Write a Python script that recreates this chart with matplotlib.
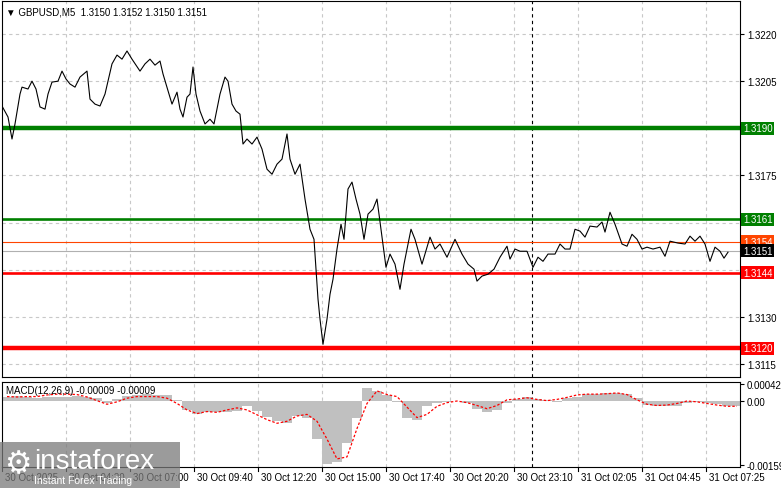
import numpy as np
import matplotlib
matplotlib.use('Agg')
import matplotlib.pyplot as plt
from matplotlib.patches import Rectangle

plt.rcParams['font.family'] = ['Liberation Sans', 'DejaVu Sans']

# price trace, x positions in bars (5 min each)
price_bars = (np.array([
    2, 8, 12, 15, 20, 22, 28, 32, 36, 40, 45, 48, 52, 58, 62, 66, 70, 75, 80, 87,
    90, 95, 100, 105, 112, 117, 122, 127, 132, 140, 145, 150, 155, 160, 163, 168, 172, 177, 180, 183,
    187, 190, 193, 196, 200, 205, 210, 214, 220, 225, 228, 232, 236, 240, 243, 247, 252, 257, 262, 267,
    272, 277, 282, 287, 290, 295, 300, 305, 310, 314, 316, 318, 320, 323, 327, 330, 333, 337, 341, 344,
    348, 352, 356, 360, 364, 368, 373, 377, 381, 386, 390, 395,
    400, 404, 411, 415, 422, 430, 435, 440, 447, 455, 462, 468, 474, 477, 482, 488, 494, 500, 507, 510,
    515, 520, 527, 533, 538, 543, 548, 555, 560, 565, 570, 575, 580, 585, 590, 597, 602, 605, 610, 615,
    622, 627, 632, 637, 642, 647, 653, 660, 665, 670, 678, 685, 690, 695, 700, 705, 710, 715, 720, 724,
    728]) - 2) / 2
price_close = [
    1.31971, 1.31936, 1.31866, 1.31914, 1.32009, 1.32031, 1.32025, 1.32050, 1.32025, 1.31968,
    1.31961, 1.32009, 1.32047, 1.32050, 1.32082, 1.32057, 1.32041, 1.32031, 1.32063, 1.32082,
    1.31993, 1.31977, 1.31971, 1.32009, 1.32105, 1.32133, 1.32120, 1.32146, 1.32120, 1.32082,
    1.32105, 1.32120, 1.32101, 1.32114, 1.32073, 1.32019, 1.31977, 1.32015, 1.31961, 1.31936,
    1.31999, 1.32009, 1.32095, 1.32009, 1.31955, 1.31914, 1.31929, 1.31914, 1.32009, 1.32063,
    1.32050, 1.31977, 1.31955, 1.31945, 1.31850, 1.31866, 1.31850, 1.31872, 1.31834, 1.31770,
    1.31754, 1.31786, 1.31802, 1.31882, 1.31802, 1.31754, 1.31786, 1.31675, 1.31579, 1.31547,
    1.31452, 1.31357, 1.31293, 1.31213, 1.31293, 1.31372, 1.31420, 1.31516, 1.31595, 1.31547,
    1.31707, 1.31729, 1.31675, 1.31627, 1.31547, 1.31627, 1.31643, 1.31675, 1.31579, 1.31458,
    1.31500, 1.31468,
    1.31388, 1.31468, 1.31579, 1.31547, 1.31468, 1.31554, 1.31516, 1.31532, 1.31490, 1.31547,
    1.31500, 1.31468, 1.31452, 1.31414, 1.31430, 1.31436, 1.31452, 1.31490, 1.31525, 1.31484,
    1.31516, 1.31509, 1.31509, 1.31458, 1.31490, 1.31477, 1.31500, 1.31500, 1.31532, 1.31516,
    1.31516, 1.31579, 1.31573, 1.31554, 1.31589, 1.31586, 1.31602, 1.31570, 1.31633, 1.31595,
    1.31532, 1.31525, 1.31563, 1.31547, 1.31516, 1.31522, 1.31516, 1.31522, 1.31493, 1.31541,
    1.31535, 1.31532, 1.31557, 1.31541, 1.31557, 1.31532, 1.31477, 1.31522, 1.31509, 1.31487,
    1.31506]

# MACD, sampled every 5 bars, in units of 1e-5
macd_bars = np.arange(74) * 5
macd_hist = [11, 13, 10, 8, 9, 10, 11, 13, 11, 7,
             -4, 4, 13, 16, 17, 16, 15, 3, -22, -31,
             -26, -26, -28, -24, -13, -24, -40, -50, -55, -37,
             -41, -94, -156, -151, -103, -41, 33, 25, 16, -2,
             -41, -46, -13, -6, -2, 0, -6, -19, -28, -22,
             -6, 6, 9, 4, 3, -2, 7, 11, 18, 18,
             20, 20, 18, 7, -11, -13, -12, -13, -6, -3,
             -4, -8, -13, -13]
macd_signal = [11, 10, 11, 11, 15, 17, 17, 16, 10, 1,
               -8, -2, 7, 11, 11, 11, 7, -6, -22, -31,
               -26, -28, -22, -17, -22, -34, -46, -55, -50, -37,
               -33, -50, -94, -143, -138, -68, -6, 25, 16, 11,
               -15, -41, -33, -13, -4, 0, -4, -11, -19, -11,
               3, 5, 8, 4, 1, 4, 9, 15, 17, 17,
               18, 20, 16, 3, -8, -11, -10, -6, 0, -2,
               -6, -10, -13, -13]

# levels: value, colour, line width
levels = [(1.3190, '#008000', 3.2), (1.3161, '#008000', 1.9), (1.3154, '#ff4500', 0.8),
          (1.3144, '#ff0000', 1.9), (1.3120, '#ff0000', 3.2)]
last_price = 1.3151

time_ticks = np.arange(12) * 32
time_labels = ['30 Oct 2025', '30 Oct 04:20', '30 Oct 07:00', '30 Oct 09:40', '30 Oct 12:20',
               '30 Oct 15:00', '30 Oct 17:40', '30 Oct 20:20', '30 Oct 23:10', '31 Oct 02:05',
               '31 Oct 04:45', '31 Oct 07:25']
price_ticks = [1.3115, 1.3130, 1.3175, 1.3205, 1.3220]
cursor_bar = 265

W, H = 781, 489
fig = plt.figure(figsize=(W / 100, H / 100), dpi=100)
ax = fig.add_axes([2 / W, (H - 378) / H, 738 / W, 376 / H])
mx = fig.add_axes([2 / W, 21 / H, 738 / W, 85 / H])

grid_kw = dict(color='#c8c8c8', ls=(0, (3, 3)), lw=0.8, zorder=0)
for a in (ax, mx):
    a.set_xlim(0, 369)
    for t in time_ticks[1:]:
        a.axvline(t, **grid_kw)
    a.axvline(cursor_bar, color='black', ls=(0, (3, 3)), lw=0.8, zorder=1)
    a.yaxis.tick_right()
    a.tick_params(axis='y', labelsize=7, length=3, pad=2)
    a.tick_params(axis='x', length=0)
    a.set_xticks([])
    for s in a.spines.values():
        s.set_linewidth(0.8)

# main panel
ax.set_ylim(1.31109, 1.32305)
for g in np.arange(1.3115, 1.3221, 0.0015):
    ax.axhline(g, **grid_kw)
ax.axhline(last_price, color='#b0b0b0', lw=0.8, zorder=1)
for val, col, lw in levels:
    ax.axhline(val, color=col, lw=lw, zorder=2)
ax.plot(price_bars, price_close, color='black', lw=0.8, zorder=3)
ax.set_yticks(price_ticks)
ax.set_yticklabels([f'{v:.4f}' for v in price_ticks])
trans = ax.get_yaxis_transform()
for val, col, lw in levels + [(last_price, 'black', 0)]:
    ax.text(1.004, val, f'{val:.4f}', transform=trans, fontsize=7, color='white',
            va='center', ha='left', zorder=5,
            bbox=dict(boxstyle='square,pad=0.15', fc=col, ec='none'))
ax.text(0.006, 0.985, '▼ GBPUSD,M5  1.3150 1.3152 1.3150 1.3151', transform=ax.transAxes,
        fontsize=7, va='top', ha='left')

# MACD panel
mx.set_ylim(-0.00163, 0.00047)
mx.bar(macd_bars, np.array(macd_hist) * 1e-5, width=5, align='edge', color='#c0c0c0', zorder=2)
mx.plot(macd_bars + 2.5, np.array(macd_signal) * 1e-5, color='red', ls=(0, (2, 1.5)), lw=0.9, zorder=3)
mx.set_yticks([0.00042, 0.0, -0.00159])
mx.set_yticklabels(['0.00042', '0.00', '-0.00159'])
mx.text(0.006, 0.96, 'MACD(12,26,9) -0.00009 -0.00009', transform=mx.transAxes,
        fontsize=7, va='top', ha='left')

# time axis labels
for t, lab in zip(time_ticks, time_labels):
    fx = (2 + 2 * t) / W
    fig.text(fx + 3 / W, 1 - 478 / H, lab, fontsize=7, va='center', ha='left')
    fig.add_artist(plt.Line2D([fx, fx], [21 / H, 17 / H], color='black', lw=0.8))

# watermark
fig.add_artist(Rectangle((0, 0), 180 / W, 46 / H, transform=fig.transFigure,
                         fc='#7a7a7a', alpha=0.75, ec='none', zorder=10))
fig.text(4 / W, 24 / H, '⚙', fontsize=22, color='white', va='center', ha='left', zorder=11)
fig.text(34 / W, 27 / H, 'instaforex', fontsize=20, color='white', va='center', ha='left', zorder=11)
fig.text(34 / W, 8 / H, 'Instant Forex Trading', fontsize=7.5, color='white', va='center',
         ha='left', zorder=11)

fig.savefig('out.png', dpi=100)
